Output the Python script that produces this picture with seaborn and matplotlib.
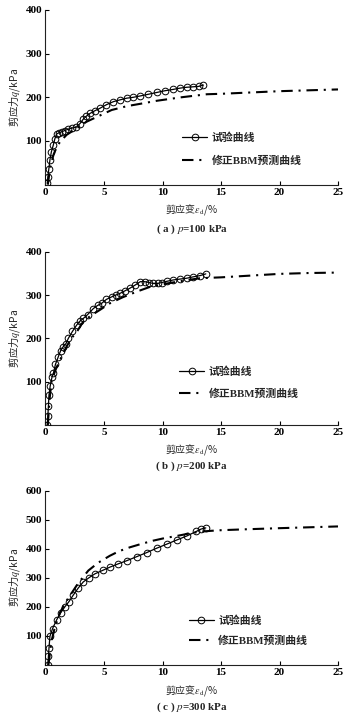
import matplotlib
matplotlib.use("Agg")
import matplotlib.pyplot as plt
import seaborn as sns
import pandas as pd

# ---- data: shear strain (%) vs deviatoric stress q (kPa) ----
# p = 100 kPa
exp_a_strain = [0.15, 0.2, 0.28, 0.38, 0.5, 0.67, 0.8, 0.96, 1.15, 1.38, 1.65, 1.95, 2.3, 2.6,
                2.95, 3.23, 3.5, 3.8, 4.2, 4.66, 5.2, 5.8, 6.35, 6.94, 7.5, 8.08, 8.8, 9.5,
                10.2, 10.9, 11.5, 12.07, 12.6, 13.1, 13.5]
exp_a_q = [3, 18, 35, 57, 75, 91, 105, 116, 119, 121, 124, 127, 130, 131,
           140, 150, 157, 163, 169, 175, 183, 190, 194, 198, 200, 203, 207, 211,
           215, 218, 221, 223, 224, 225, 228]
pred_a_strain = [0.2, 0.4, 0.7, 1.0, 1.24, 1.8, 2.67, 3.5, 4.38, 5.66, 7.0, 8.08, 9.5, 11.6,
                 13.8, 15.0, 17.5, 20.0, 22.5, 25.0]
pred_a_q = [0, 40, 70, 88, 98, 114, 129, 144, 155, 171, 180, 185, 192, 200,
            207, 208, 211, 214, 216, 218]

# p = 200 kPa
exp_b_strain = [0.15, 0.2, 0.25, 0.3, 0.4, 0.55, 0.67, 0.85, 1.1, 1.3, 1.52, 1.75, 1.95, 2.3,
                2.67, 2.95, 3.23, 3.6, 4.09, 4.45, 4.8, 5.2, 5.66, 6.0, 6.37, 6.8, 7.22, 7.65,
                8.1, 8.5, 8.85, 9.2, 9.6, 9.93, 10.4, 10.93, 11.5, 12.07, 12.6, 13.2, 13.7]
exp_b_q = [0, 20, 45, 70, 90, 110, 119, 140, 158, 172, 181, 188, 200, 216,
           231, 240, 246, 255, 269, 276, 281, 290, 296, 300, 304, 310, 316, 323,
           331, 331, 329, 327, 327, 329, 332, 335, 337, 339, 342, 345, 349]
pred_b_strain = [0.2, 0.35, 0.53, 0.9, 1.24, 1.8, 2.2, 2.67, 3.23, 3.9, 4.66, 5.5, 6.6, 7.8,
                 8.93, 10.0, 11.5, 13.2, 15.0, 17.5, 20.0, 22.5, 25.0]
pred_b_q = [0, 60, 104, 130, 150, 181, 200, 215, 239, 253, 266, 281, 295, 308,
            319, 325, 332, 339, 341, 345, 349, 351, 352]

# p = 300 kPa
exp_c_strain = [0.2, 0.25, 0.3, 0.38, 0.6, 0.96, 1.3, 1.67, 2.0, 2.38, 2.8, 3.23, 3.7, 4.23,
                4.9, 5.51, 6.2, 6.94, 7.8, 8.65, 9.5, 10.36, 11.2, 12.07, 12.9, 13.3, 13.7]
exp_c_q = [0, 30, 60, 99, 125, 156, 180, 201, 218, 241, 265, 286, 300, 314,
           326, 337, 348, 359, 373, 387, 402, 416, 430, 444, 460, 468, 472]
pred_c_strain = [0.25, 0.5, 0.8, 1.24, 1.7, 2.24, 2.8, 3.66, 4.5, 5.5, 6.3, 7.2, 8.2, 9.2,
                 10.2, 11.2, 12.2, 13.2, 14.2, 15.0, 17.0, 20.0, 22.5, 25.0]
pred_c_q = [0, 80, 130, 180, 215, 248, 282, 325, 352, 376, 392, 405, 417, 428,
            437, 444, 452, 459, 462, 464, 467, 471, 474, 477]

x_ticks = [0, 5, 10, 15, 20, 25]
y_ticks_ab = [100, 200, 300, 400]
y_ticks_c = [100, 200, 300, 400, 500, 600]
captions = ["a", "b", "c"]
pressures = [100, 200, 300]
label_exp = "试验曲线"
label_pred = "修正BBM预测曲线"

sns.set_style("white")
plt.rcParams["font.family"] = ["Liberation Serif", "Noto Sans CJK SC", "DejaVu Sans"]
plt.rcParams["mathtext.fontset"] = "stix"
plt.rcParams["axes.unicode_minus"] = False

# axis labels mix CJK with math symbols; mathtext draws plain text in the
# text's own font, so these labels use a CJK face directly
CJK = "Noto Sans CJK SC"

W, H = 349, 716
fig = plt.figure(figsize=(W / 100, H / 100), dpi=100)

x0_px, x1_px = 45.5, 338.0
# (y of q=0, y of q=ymax, ymax, yticks, xlabel y, caption y, legend anchor, labelspacing)
panels = [
    (184.7, 9.9, 400, y_ticks_ab, 210.0, 229.5, (0.468, 0.205), 1.15),
    (425.0, 251.8, 400, y_ticks_ab, 449.5, 466.5, (0.457, 0.245), 1.1),
    (665.0, 490.7, 600, y_ticks_c, 690.0, 707.5, (0.49, 0.197), 0.85),
]
series = [
    (exp_a_strain, exp_a_q, pred_a_strain, pred_a_q),
    (exp_b_strain, exp_b_q, pred_b_strain, pred_b_q),
    (exp_c_strain, exp_c_q, pred_c_strain, pred_c_q),
]

for i, (pan, ser) in enumerate(zip(panels, series)):
    y0, y1, ymax, yt, xl_y, cap_y, leg_anchor, lsp = pan
    es, eq, ps, pq = ser
    ax = fig.add_axes([x0_px / W, 1 - y0 / H, (x1_px - x0_px) / W, (y0 - y1) / H])

    df_exp = pd.DataFrame({"strain": es, "q": eq})
    df_pred = pd.DataFrame({"strain": ps, "q": pq})

    sns.lineplot(data=df_exp, x="strain", y="q", ax=ax, sort=False, estimator=None,
                 color="black", lw=0.9, marker="o", markersize=4.8,
                 markerfacecolor="none", markeredgecolor="black", markeredgewidth=0.7,
                 label=label_exp, zorder=3)
    sns.lineplot(data=df_pred, x="strain", y="q", ax=ax, sort=False, estimator=None,
                 color="black", lw=1.5, dashes=False, label=label_pred, zorder=2)
    ax.lines[-1].set_linestyle((0, (5.5, 2.8, 1.0, 2.8)))

    ax.set_xlim(0, 25)
    ax.set_ylim(0, ymax)
    ax.set_xticks(x_ticks)
    ax.set_yticks(yt)
    for s in ["top", "right"]:
        ax.spines[s].set_visible(False)
    for s in ["left", "bottom"]:
        ax.spines[s].set_linewidth(0.8)
        ax.spines[s].set_color("#222222")
    ax.tick_params(direction="in", length=3, width=0.8, pad=2.5, labelsize=8,
                   colors="black", left=True, bottom=True)
    for t in ax.get_xticklabels() + ax.get_yticklabels():
        t.set_fontweight("bold")
        t.set_family("Liberation Serif")

    ax.set_xlabel("")
    ax.set_ylabel("剪应力$q$/kPa", fontsize=7.4, va="center", family=CJK)
    ax.yaxis.set_label_coords((15 - x0_px) / (x1_px - x0_px), 0.5)

    fig.text(191.7 / W, 1 - xl_y / H, "剪应变$\\varepsilon_{\\rm d}$/%", fontsize=7.2,
             ha="center", va="center", family=CJK)
    fig.text(191.7 / W, 1 - cap_y / H,
             "( %s ) $p$=%d kPa" % (captions[i], pressures[i]),
             fontsize=7.9, fontweight="bold", ha="center", va="center",
             family="Liberation Serif")

    ax.legend(loc="center left", bbox_to_anchor=leg_anchor, frameon=False,
              borderpad=0, borderaxespad=0, handlelength=2.3, handletextpad=0.4,
              numpoints=1, labelspacing=lsp,
              prop={"size": 7.8, "weight": "bold",
                    "family": ["Liberation Serif", "Noto Sans CJK SC"]})

fig.savefig("out.png", dpi=100)
